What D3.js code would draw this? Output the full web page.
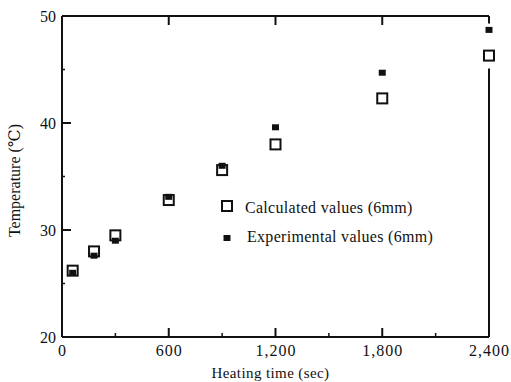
<!DOCTYPE html>
<html>
<head>
<meta charset="utf-8">
<script src="https://cdn.jsdelivr.net/npm/d3@7"></script>
<style>
body { margin: 0; background: #fff; }
text { font-family: "Liberation Serif", "DejaVu Serif", serif; fill: #111; }
</style>
</head>
<body>
<div id="chart-area"></div>
<script>
// values
var times = [60, 180, 300, 600, 900, 1200, 1800, 2400];
var calculated = [26.2, 28.0, 29.5, 32.8, 35.6, 38.0, 42.3, 46.3];
var experimental = [26.0, 27.6, 29.0, 33.1, 36.0, 39.6, 44.7, 48.7];
var xTicks = [0, 600, 1200, 1800, 2400];
var xLabels = ["0", "600", "1,200", "1,800", "2,400"];
var xMinor = [300, 900, 1500, 2100];
var yTicks = [20, 30, 40, 50];
var yMinor = [25, 35, 45];

var margin = { left: 62, right: 22, top: 16, bottom: 45 };
var width = 511 - margin.left - margin.right,
    height = 382 - margin.top - margin.bottom;

var svg = d3.select("#chart-area").append("svg")
    .attr("width", 511)
    .attr("height", 382);

var g = svg.append("g").attr("transform", "translate(" + margin.left + ", " + margin.top + ")");

var x = d3.scaleLinear().domain([0, 2400]).range([0, width]);
var y = d3.scaleLinear().domain([20, 50]).range([height, 0]);

// frame
g.append("line").attr("x1", 0).attr("x2", 0).attr("y1", 0).attr("y2", height)
    .attr("stroke", "#111").attr("stroke-width", 2);
g.append("line").attr("x1", 0).attr("x2", width).attr("y1", height).attr("y2", height)
    .attr("stroke", "#111").attr("stroke-width", 2);
g.append("line").attr("x1", 0).attr("x2", width).attr("y1", 0).attr("y2", 0)
    .attr("stroke", "#111").attr("stroke-width", 2);
// right side is broken where the last points sit
g.append("line").attr("x1", width).attr("x2", width).attr("y1", 0).attr("y2", y(49.3))
    .attr("stroke", "#111").attr("stroke-width", 2);
g.append("line").attr("x1", width).attr("x2", width).attr("y1", y(45.1)).attr("y2", height)
    .attr("stroke", "#111").attr("stroke-width", 2);

// bottom axis: ticks point inward
var bottomAxis = d3.axisBottom(x).tickValues(xTicks).tickSize(0).tickPadding(8)
    .tickFormat(function(d, i) { return xLabels[i]; });
var gx = g.append("g")
    .attr("class", "x axis")
    .attr("transform", "translate(0, " + height + ")")
    .call(bottomAxis);
gx.select(".domain").remove();
gx.selectAll("text").attr("font-size", "16px")
    .attr("font-family", "Liberation Serif").style("letter-spacing", "1px");

xTicks.slice(1, 4).forEach(function(d) {
    g.append("line").attr("x1", x(d)).attr("x2", x(d)).attr("y1", height).attr("y2", height - 9)
        .attr("stroke", "#111").attr("stroke-width", 2);
    g.append("line").attr("x1", x(d)).attr("x2", x(d)).attr("y1", 0).attr("y2", 9)
        .attr("stroke", "#111").attr("stroke-width", 2);
});
xMinor.forEach(function(d) {
    g.append("line").attr("x1", x(d)).attr("x2", x(d)).attr("y1", height).attr("y2", height - 4)
        .attr("stroke", "#111").attr("stroke-width", 1.5);
});

// left axis
var leftAxis = d3.axisLeft(y).tickValues(yTicks).tickSize(0).tickPadding(6);
var gy = g.append("g")
    .attr("class", "y axis")
    .call(leftAxis);
gy.select(".domain").remove();
gy.selectAll("text").attr("font-size", "16px").attr("font-family", "Liberation Serif");

yTicks.slice(1, 3).forEach(function(d) {
    g.append("line").attr("x1", 0).attr("x2", 9).attr("y1", y(d)).attr("y2", y(d))
        .attr("stroke", "#111").attr("stroke-width", 2);
});
yMinor.forEach(function(d) {
    g.append("line").attr("x1", 0).attr("x2", 3).attr("y1", y(d)).attr("y2", y(d))
        .attr("stroke", "#111").attr("stroke-width", 1.5);
});

// X Label
g.append("text")
    .attr("x", width / 2 - 5)
    .attr("y", height + 41)
    .attr("font-size", "15px")
    .attr("text-anchor", "middle")
    .style("letter-spacing", "0.4px")
    .text("Heating time (sec)");
// Y Label
g.append("text")
    .attr("x", -(height / 2) - 4)
    .attr("y", -42)
    .attr("font-size", "16px")
    .attr("text-anchor", "middle")
    .attr("transform", "rotate(-90)")
    .text("Temperature (\u2103)");

// points
var pts = times.map(function(t, i) {
    return { t: t, calc: calculated[i], exp: experimental[i] };
});

g.selectAll("rect.exp")
    .data(pts)
    .enter().append("rect")
    .attr("class", "exp")
    .attr("x", function(d) { return x(d.t) - 3.5; })
    .attr("y", function(d) { return y(d.exp) - 3; })
    .attr("width", 7)
    .attr("height", 6)
    .attr("fill", "#111");

g.selectAll("rect.calc")
    .data(pts)
    .enter().append("rect")
    .attr("class", "calc")
    .attr("x", function(d) { return x(d.t) - 5; })
    .attr("y", function(d) { return y(d.calc) - 5; })
    .attr("width", 10)
    .attr("height", 10)
    .attr("fill", "none")
    .attr("stroke", "#111")
    .attr("stroke-width", 2);

// legend
var legend = g.append("g").attr("transform", "translate(" + (227 - margin.left) + ", " + (206 - margin.top) + ")");
legend.append("rect").attr("x", -5).attr("y", -5).attr("width", 10).attr("height", 10)
    .attr("fill", "none").attr("stroke", "#111").attr("stroke-width", 2);
legend.append("text").attr("x", 18).attr("y", 7).attr("font-size", "16px")
    .style("letter-spacing", "0.3px")
    .text("Calculated values (6mm)");
legend.append("rect").attr("x", -3.5).attr("y", 29).attr("width", 7).attr("height", 6)
    .attr("fill", "#111");
legend.append("text").attr("x", 20).attr("y", 36).attr("font-size", "16px")
    .style("letter-spacing", "0.3px")
    .text("Experimental values (6mm)");
</script>
</body>
</html>
